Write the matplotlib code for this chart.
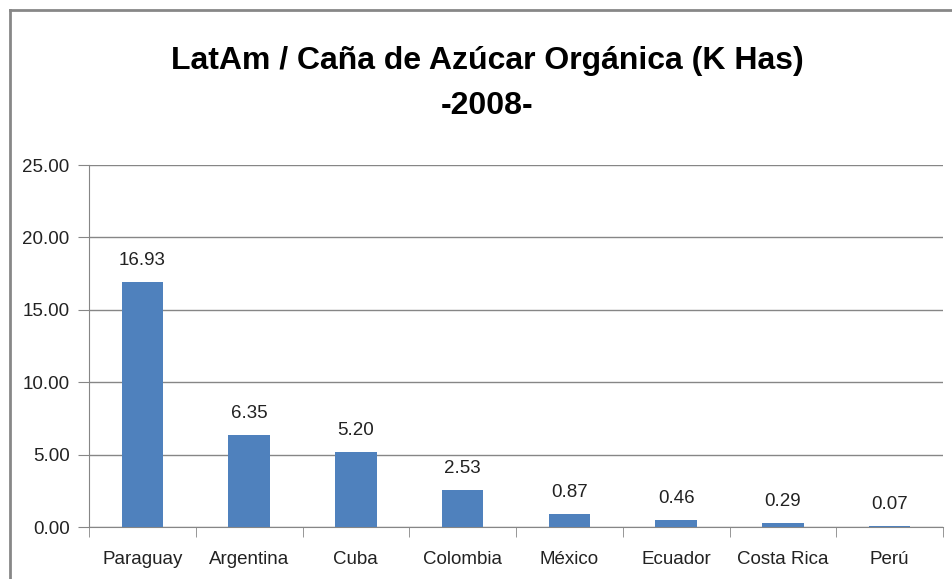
import matplotlib.pyplot as plt
import numpy as np

# data
countries = ['Paraguay', 'Argentina', 'Cuba', 'Colombia', 'México',
             'Ecuador', 'Costa Rica', 'Perú']
values = [16.93, 6.35, 5.20, 2.53, 0.87, 0.46, 0.29, 0.07]
yticks = [0, 5, 10, 15, 20, 25]

plt.rcParams['font.family'] = ['Liberation Sans Narrow', 'Liberation Sans', 'DejaVu Sans']

fig = plt.figure(figsize=(9.52, 5.79), dpi=100)
ax = fig.add_axes([89/952, 1-527/579, (943-89)/952, (527-165)/579])

# chart border (only top and left visible in crop)
fig.add_artist(plt.Line2D([10/952, 1.0], [1-10/579, 1-10/579], color='#878787', lw=2,
                          transform=fig.transFigure))
fig.add_artist(plt.Line2D([10/952, 10/952], [0, 1-10/579], color='#878787', lw=2,
                          transform=fig.transFigure))

x = np.arange(len(countries))
ax.bar(x, values, width=0.39, color='#4F81BD', zorder=3)
for xi, v in zip(x, values):
    ax.text(xi, v + 0.9, f'{v:.2f}', ha='center', va='bottom', fontsize=13.5, color='#222222')

ax.set_xlim(-0.5, len(countries) - 0.5)
ax.set_ylim(0, 25)
ax.set_yticks(yticks)
ax.set_yticklabels([f'{t:.2f}' for t in yticks])
ax.set_xticks(x)
ax.set_xticklabels(countries)
ax.set_xticks(np.arange(len(countries) + 1) - 0.5, minor=True)

ax.yaxis.grid(True, color='#868686', lw=1, zorder=0)
for s in ['top', 'right']:
    ax.spines[s].set_visible(False)
for s in ['left', 'bottom']:
    ax.spines[s].set_color('#868686')

ax.tick_params(axis='y', length=8, color='#868686', labelsize=13.5, pad=6, labelcolor='#222222')
ax.tick_params(axis='x', which='major', length=0, labelsize=13.5, pad=17, labelcolor='#222222')
ax.tick_params(axis='x', which='minor', length=7, color='#868686')

fig.text(487/952, 1-61/579, 'LatAm / Caña de Azúcar Orgánica (K Has)', ha='center', va='center',
         fontsize=23, fontweight='bold')
fig.text(487/952, 1-106/579, '-2008-', ha='center', va='center', fontsize=23, fontweight='bold')

fig.savefig('out.png', dpi=100)
